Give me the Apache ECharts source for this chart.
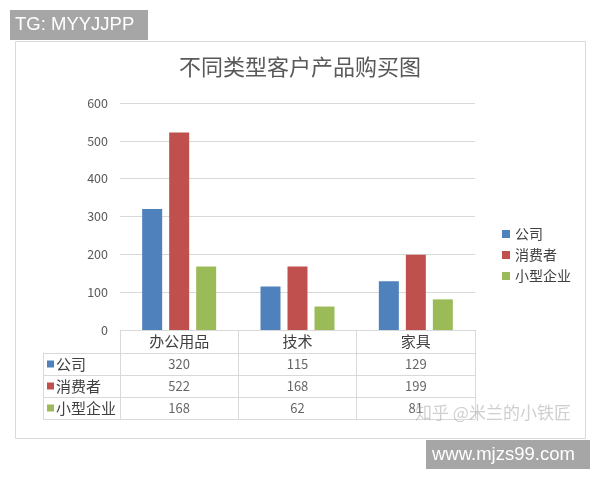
<!DOCTYPE html>
<html><head><meta charset="utf-8">
<script src="https://cdn.jsdelivr.net/npm/echarts@6/dist/echarts.min.js"></script>
<style>html,body{margin:0;padding:0;background:#fff}#c{width:600px;height:480px}</style>
</head><body><div id="c"></div>
<script>
const categories = ['办公用品', '技术', '家具'];
const seriesNames = ['公司', '消费者', '小型企业'];
const companyValues = [320, 115, 129];
const consumerValues = [522, 168, 199];
const smallBizValues = [168, 62, 81];
const yMin = 0, yMax = 600, yInterval = 100;
const colors = ['#4f81bd', '#c0504d', '#9bbb59'];

const FONT = '"Noto Sans CJK SC", "Noto Sans", sans-serif';
const LINE = '#d9d9d9';
const values = [companyValues, consumerValues, smallBizValues];
const cellData = [];
values.forEach((arr, r) => arr.forEach((v, c) => cellData.push([categories[c], seriesNames[r], v])));

const rich = { t: { fontSize: 15, color: '#404040', padding: [0, 0, 0, 2], fontFamily: FONT } };
colors.forEach((c, i) => { rich['s' + i] = { width: 7, height: 7, backgroundColor: c }; });

const chart = echarts.init(document.getElementById('c'), null, { renderer: 'canvas' });
chart.setOption({
  backgroundColor: '#fff',
  animation: false,
  color: colors,
  textStyle: { fontFamily: FONT },
  title: {
    text: '不同类型客户产品购买图', left: 'center', top: 56, padding: 0,
    textStyle: { fontSize: 22, fontWeight: 'normal', color: '#595959', fontFamily: FONT }
  },
  legend: {
    orient: 'vertical', left: 497, top: 222, itemWidth: 8, itemHeight: 8, itemGap: 7,
    icon: 'rect', data: seriesNames,
    textStyle: { fontSize: 14, color: '#404040', fontFamily: FONT }
  },
  grid: [
    { left: 120, right: 125, top: 103, bottom: 150 },
    { left: 120, right: 125, top: 353, bottom: 61 }
  ],
  xAxis: [
    {
      gridIndex: 0, type: 'category', data: categories,
      axisLine: { lineStyle: { color: LINE } },
      axisTick: { show: true, length: 23, lineStyle: { color: LINE } },
      axisLabel: { fontSize: 15, color: '#404040', margin: 4, fontFamily: FONT }
    },
    {
      gridIndex: 1, type: 'category', data: categories,
      axisLine: { show: true, lineStyle: { color: LINE } },
      axisTick: { show: false }, axisLabel: { show: false },
      splitLine: { show: true, lineStyle: { color: LINE } }
    }
  ],
  yAxis: [
    {
      gridIndex: 0, type: 'value', min: yMin, max: yMax, interval: yInterval,
      axisLine: { show: false }, axisTick: { show: false },
      axisLabel: { color: '#595959', fontSize: 12.5, margin: 12 },
      splitLine: { lineStyle: { color: LINE } }
    },
    {
      gridIndex: 1, type: 'category', data: seriesNames, inverse: true, position: 'left',
      axisLine: { show: true, lineStyle: { color: LINE } },
      axisTick: { show: true, length: 77, lineStyle: { color: LINE } },
      splitLine: { show: true, lineStyle: { color: LINE } },
      axisLabel: {
        align: 'left', margin: 73,
        formatter: (v, i) => '{s' + i + '| }{t|' + v + '}', rich: rich
      }
    },
    {
      gridIndex: 1, type: 'category', data: seriesNames, inverse: true, position: 'left', offset: 77,
      axisLine: { show: true, lineStyle: { color: LINE } },
      axisTick: { show: false }, axisLabel: { show: false }, splitLine: { show: false }
    }
  ],
  series: [
    { name: seriesNames[0], type: 'bar', xAxisIndex: 0, yAxisIndex: 0, data: companyValues, barWidth: 20, barGap: '35%' },
    { name: seriesNames[1], type: 'bar', xAxisIndex: 0, yAxisIndex: 0, data: consumerValues, barWidth: 20, barGap: '35%' },
    { name: seriesNames[2], type: 'bar', xAxisIndex: 0, yAxisIndex: 0, data: smallBizValues, barWidth: 20, barGap: '35%' },
    {
      name: 'table', type: 'scatter', xAxisIndex: 1, yAxisIndex: 1, data: cellData,
      symbolSize: 1, itemStyle: { color: 'transparent' }, silent: true,
      label: { show: true, position: 'inside', formatter: p => p.value[2], color: '#404040', fontSize: 13, fontFamily: FONT }
    }
  ],
  graphic: [
    { type: 'rect', z: -10, shape: { x: 15.5, y: 41.5, width: 570, height: 397 }, style: { fill: 'none', stroke: '#d9d9d9', lineWidth: 1 } },
    { type: 'rect', z: 100, shape: { x: 10, y: 10, width: 138, height: 30 }, style: { fill: '#a6a6a6' } },
    { type: 'text', z: 101, x: 15, y: 25, style: { text: 'TG: MYYJJPP', fill: '#fff', fontSize: 18.5, fontFamily: '"Liberation Sans", Arial, sans-serif', verticalAlign: 'middle' } },
    { type: 'rect', z: 100, shape: { x: 426, y: 440, width: 164, height: 29 }, style: { fill: '#a6a6a6' } },
    { type: 'text', z: 101, x: 432, y: 455, style: { text: 'www.mjzs99.com', fill: '#fff', fontSize: 18.5, fontFamily: '"Liberation Sans", Arial, sans-serif', verticalAlign: 'middle' } },
    { type: 'text', z: 100, x: 415, y: 413, style: { text: '知乎 @米兰的小铁匠', fill: 'rgba(160,160,160,0.5)', fontSize: 17, fontFamily: FONT, verticalAlign: 'middle' } }
  ]
});
</script></body></html>
